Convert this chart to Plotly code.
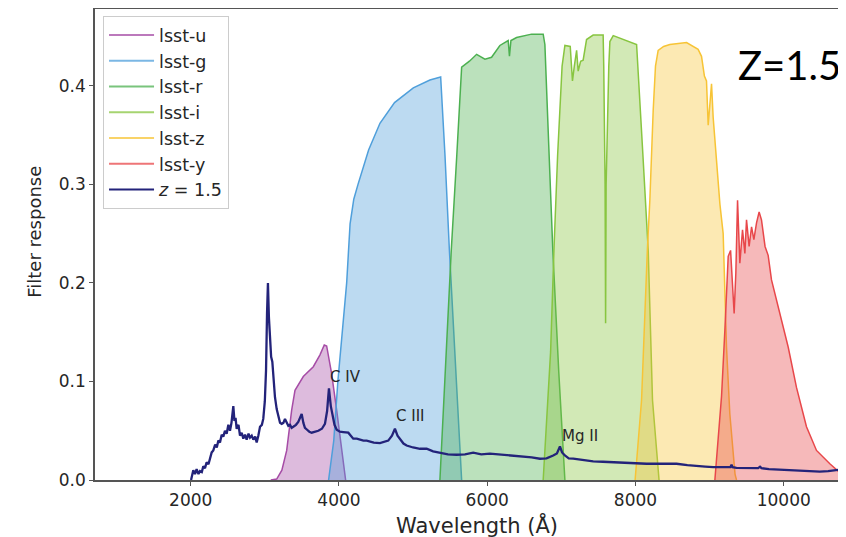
import plotly.graph_objects as go

# ---------------- data ----------------
u_wl = [3080, 3160, 3230, 3295, 3362, 3407, 3519, 3654, 3744, 3802, 3834, 3901, 3969, 4036, 4090]
u_resp = [0, 0.001, 0.010, 0.030, 0.071, 0.091, 0.105, 0.115, 0.127, 0.137, 0.136, 0.108, 0.071, 0.033, 0.0]

g_wl = [3860, 3930, 3985, 4040, 4104, 4150, 4200, 4257, 4400, 4553, 4750, 5003, 5227, 5372, 5430, 5490, 5570, 5655]
g_resp = [0, 0.04, 0.10, 0.15, 0.20, 0.26, 0.285, 0.30, 0.335, 0.362, 0.383, 0.398, 0.406, 0.409, 0.33, 0.233, 0.12, 0]

r_wl = [5362, 5430, 5515, 5590, 5655, 5760, 5857, 5969, 6059, 6171, 6283, 6300, 6320, 6396, 6598, 6755, 6778,
        6830, 6885, 6965, 7048]
r_resp = [0, 0.11, 0.233, 0.33, 0.419, 0.425, 0.432, 0.427, 0.429, 0.441, 0.446, 0.430, 0.446, 0.449, 0.4525,
          0.4525, 0.442, 0.34, 0.233, 0.11, 0]

i_wl = [6755, 6810, 6855, 6900, 6950, 7010, 7048, 7120, 7150, 7175, 7206, 7227, 7260, 7294, 7340, 7429, 7564,
        7572, 7590, 7597, 7604, 7640, 7655, 7700, 7880, 7950, 8015, 8100, 8172, 8230, 8318]
i_resp = [0, 0.07, 0.13, 0.233, 0.33, 0.42, 0.441, 0.44, 0.405, 0.42, 0.436, 0.415, 0.425, 0.426, 0.447, 0.4515,
          0.4515, 0.42, 0.30, 0.159, 0.30, 0.42, 0.445, 0.451, 0.446, 0.444, 0.442, 0.33, 0.233, 0.081, 0]

z_wl = [7995, 8082, 8160, 8194, 8239, 8270, 8306, 8380, 8464, 8689, 8845, 8891, 8930, 8958, 8981, 9003, 9026,
        9048, 9094, 9139, 9183, 9206, 9228, 9273, 9343, 9363]
z_resp = [0, 0.081, 0.233, 0.284, 0.375, 0.42, 0.436, 0.44, 0.442, 0.444, 0.437, 0.43, 0.41, 0.405, 0.36, 0.385,
          0.402, 0.368, 0.32, 0.28, 0.25, 0.20, 0.135, 0.067, 0.006, 0]

y_wl = [9071, 9139, 9161, 9206, 9251, 9283, 9318, 9331, 9354, 9377, 9408, 9444, 9476, 9498, 9533, 9566, 9597,
        9633, 9668, 9700, 9748, 9790, 9835, 9947, 10060, 10172, 10307, 10442, 10622, 10837, 10950]
y_resp = [0, 0.067, 0.085, 0.152, 0.227, 0.233, 0.193, 0.169, 0.21, 0.284, 0.22, 0.254, 0.23, 0.264, 0.237,
          0.257, 0.244, 0.261, 0.272, 0.264, 0.237, 0.228, 0.203, 0.169, 0.135, 0.094, 0.054, 0.030, 0.0165,
          0.002, 0]

spec_wl = [2005, 2013, 2035, 2058, 2080, 2105, 2125, 2150, 2170, 2193, 2215, 2240, 2260, 2283, 2305, 2330, 2352,
           2373, 2395, 2418, 2440, 2462, 2485, 2508, 2530, 2550, 2575, 2590, 2605, 2620, 2645, 2665, 2688, 2710,
           2733, 2755, 2780, 2800, 2823, 2845, 2870, 2890, 2912, 2935, 2960, 2979, 3000, 3016, 3030, 3042, 3055,
           3070, 3085, 3101, 3120, 3137, 3160, 3182, 3205, 3227, 3250, 3272, 3295, 3317, 3340, 3362, 3384, 3420,
           3451, 3475, 3497, 3520, 3541, 3570, 3600, 3632, 3680, 3721, 3770, 3811, 3840, 3865, 3890, 3915, 3940,
           3969, 4013, 4058, 4104, 4126, 4160, 4193, 4240, 4283, 4330, 4374, 4420, 4470, 4553, 4620, 4665, 4715,
           4755, 4790, 4823, 4870, 4913, 5000, 5093, 5183, 5270, 5362, 5470, 5587, 5700, 5811, 5920, 6036, 6150,
           6262, 6380, 6486, 6600, 6711, 6800, 6890, 6940, 6981, 7010, 7048, 7100, 7160, 7250, 7340, 7430, 7560,
           7700, 7800, 7925, 8050, 8150, 8350, 8554, 8700, 8824, 8940, 9048, 9200, 9280, 9296, 9310, 9363, 9500,
           9655, 9680, 9700, 9800, 9947, 10100, 10217, 10350, 10487, 10600, 10712, 10800, 10837]
spec_flux = [0.0, 0.004, 0.010, 0.006, 0.011, 0.006, 0.009, 0.008, 0.014, 0.012, 0.018, 0.016, 0.022, 0.028,
             0.030, 0.036, 0.033, 0.040, 0.038, 0.046, 0.044, 0.050, 0.047, 0.056, 0.050, 0.058, 0.075, 0.060,
             0.063, 0.052, 0.056, 0.045, 0.048, 0.042, 0.046, 0.041, 0.047, 0.043, 0.045, 0.041, 0.044, 0.038,
             0.045, 0.054, 0.056, 0.062, 0.080, 0.111, 0.170, 0.200, 0.165, 0.145, 0.125, 0.120, 0.095, 0.084,
             0.072, 0.064, 0.058, 0.057, 0.058, 0.062, 0.058, 0.055, 0.056, 0.053, 0.054, 0.056, 0.059, 0.064,
             0.067, 0.058, 0.053, 0.051, 0.049, 0.048, 0.049, 0.050, 0.052, 0.057, 0.070, 0.093, 0.075, 0.064,
             0.056, 0.051, 0.049, 0.0486, 0.0487, 0.048, 0.045, 0.042, 0.042, 0.041, 0.040, 0.040, 0.039, 0.038,
             0.0375, 0.039, 0.040, 0.045, 0.052, 0.045, 0.042, 0.037, 0.035, 0.033, 0.0317, 0.0317, 0.029, 0.0273,
             0.026, 0.0256, 0.026, 0.0277, 0.026, 0.0267, 0.026, 0.0256, 0.025, 0.0239, 0.023, 0.0216, 0.022,
             0.0249, 0.027, 0.034, 0.028, 0.0249, 0.022, 0.0216, 0.0205, 0.0198, 0.019, 0.0185, 0.018, 0.018,
             0.0175, 0.017, 0.0165, 0.0165, 0.0165, 0.015, 0.014, 0.0135, 0.013, 0.013, 0.013, 0.0155, 0.013,
             0.0124, 0.012, 0.012, 0.0135, 0.012, 0.011, 0.0104, 0.0101, 0.010, 0.009, 0.0086, 0.009, 0.0097,
             0.011, 0.013]

filter_names = ["lsst-u", "lsst-g", "lsst-r", "lsst-i", "lsst-z", "lsst-y"]
spec_name = "<i>z</i> = 1.5"
x_ticks = [2000, 4000, 6000, 8000, 10000]
y_ticks = [0.0, 0.1, 0.2, 0.3, 0.4]
line_labels = ["C IV", "C III", "Mg II"]
label_x = [4088, 4971, 7246]
label_y = [0.1046, 0.0649, 0.0443]
redshift_text = "Z=1.5"

# ---------------- styling ----------------
filter_rgb = [(166, 76, 166), (79, 159, 219), (76, 176, 80), (136, 197, 64), (247, 196, 54), (232, 71, 74)]
spec_color = "#23237a"
FONT = "DejaVu Sans"
TXT = "#262626"

filters = [(u_wl, u_resp), (g_wl, g_resp), (r_wl, r_resp), (i_wl, i_resp), (z_wl, z_resp), (y_wl, y_resp)]

fig = go.Figure()
for (wl, resp), rgb in zip(filters, filter_rgb):
    fig.add_trace(go.Scatter(
        x=wl, y=resp, mode="lines", fill="tozeroy",
        line=dict(color="rgb(%d,%d,%d)" % rgb, width=1.5),
        fillcolor="rgba(%d,%d,%d,0.38)" % rgb,
        showlegend=False, hoverinfo="skip"))

fig.add_trace(go.Scatter(x=spec_wl, y=spec_flux, mode="lines",
                         line=dict(color=spec_color, width=2.3), showlegend=False))

# legend entries (line only, as in the reference)
for name, rgb in zip(filter_names, filter_rgb):
    fig.add_trace(go.Scatter(x=[None], y=[None], mode="lines", name=name,
                             line=dict(color="rgba(%d,%d,%d,0.75)" % rgb, width=2)))
fig.add_trace(go.Scatter(x=[None], y=[None], mode="lines", name=spec_name,
                         line=dict(color=spec_color, width=2)))

for t, xx, yy in zip(line_labels, label_x, label_y):
    fig.add_annotation(x=xx, y=yy, text=t, showarrow=False, xanchor="center", yanchor="middle",
                       font=dict(family=FONT, size=15, color=TXT))

fig.add_annotation(xref="paper", yref="paper", x=0.8535, y=0.881, text=redshift_text, showarrow=False,
                   xanchor="left", yanchor="middle", font=dict(family="Lato", size=40, color="black"))
fig.add_annotation(xref="paper", yref="paper", x=0.509, y=-0.0955, text="Wavelength (Å)", showarrow=False,
                   xanchor="center", yanchor="middle", font=dict(family=FONT, size=21, color=TXT))
fig.add_annotation(xref="paper", yref="paper", x=-0.0799, y=0.527, text="Filter response", showarrow=False,
                   textangle=-90, xanchor="center", yanchor="middle", font=dict(family=FONT, size=18, color=TXT))

# the page body has an 8 px margin, so the figure is sized to end exactly at the window edges
fig.update_layout(
    width=838, height=529,
    margin=dict(l=87, r=0, t=1, b=57),
    paper_bgcolor="white", plot_bgcolor="white",
    font=dict(family=FONT, size=17, color=TXT),
    legend=dict(x=0.0107, y=0.985, xanchor="left", yanchor="top", itemwidth=45,
                bgcolor="rgba(255,255,255,0.85)", bordercolor="#cccccc", borderwidth=1,
                font=dict(family=FONT, size=17.5, color=TXT), tracegroupgap=0),
    xaxis=dict(range=[709, 10840], tickvals=x_ticks, ticktext=[str(v) for v in x_ticks],
               showgrid=False, zeroline=False, showline=True, linecolor="#555555", linewidth=1.5,
               mirror=True, ticks="outside", ticklen=4, tickcolor="#555555",
               tickfont=dict(family=FONT, size=17, color=TXT)),
    yaxis=dict(range=[0, 0.478], tickvals=y_ticks, ticktext=["%.1f" % v for v in y_ticks],
               showgrid=False, zeroline=False, showline=True, linecolor="#555555", linewidth=1.5,
               ticks="outside", ticklen=4, tickcolor="#555555",
               tickfont=dict(family=FONT, size=17, color=TXT)),
)

fig.write_html("out.html")
